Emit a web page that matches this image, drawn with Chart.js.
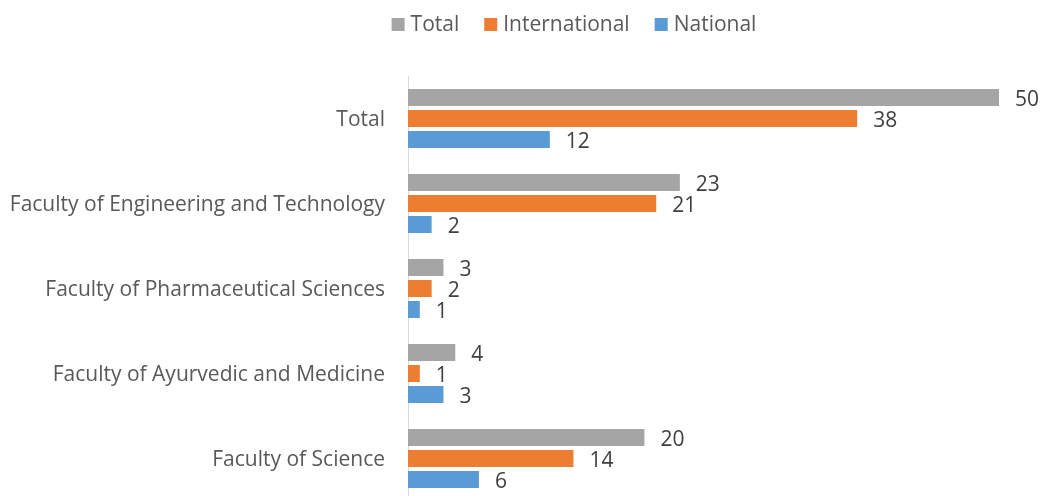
<!DOCTYPE html>
<html>
<head>
<meta charset="utf-8">
<script src="https://cdn.jsdelivr.net/npm/chart.js@4.4.0/dist/chart.umd.min.js"></script>
<style>
html,body{margin:0;padding:0;background:#fff;overflow:hidden}
#wrap{width:1043px;height:496px;overflow:hidden}
</style>
</head>
<body>
<div id="wrap"><canvas id="chart" width="1043" height="501"></canvas></div>
<script>
const categories=["Total","Faculty of Engineering and Technology","Faculty of Pharmaceutical Sciences","Faculty of Ayurvedic and Medicine","Faculty of Science"]
const totalValues=[50,23,3,4,20]
const internationalValues=[38,21,2,1,14]
const nationalValues=[12,2,1,3,6]
const seriesNames=["Total","International","National"]
const seriesColors=["#A5A5A5","#ED7D31","#5B9BD5"]

const font="'Open Sans', sans-serif"
const fontSize=21
const textColor="#595959"

// value labels at the end of each bar
const valueLabels={
id:"valueLabels",
afterDatasetsDraw(chart){
const ctx=chart.ctx
ctx.save()
ctx.font=fontSize+"px "+font
ctx.fillStyle="#404040"
ctx.textBaseline="middle"
ctx.textAlign="left"
chart.data.datasets.forEach((ds,i)=>{
chart.getDatasetMeta(i).data.forEach((bar,j)=>{
ctx.fillText(ds.data[j],bar.x+16,bar.y+3)
})
})
ctx.restore()
}
}

// legend drawn by hand so spacing matches
const topLegend={
id:"topLegend",
afterDraw(chart){
const ctx=chart.ctx
ctx.save()
ctx.font=fontSize+"px "+font
ctx.textBaseline="middle"
const box=13,gap=6,itemGap=25
const items=chart.data.datasets.map(ds=>({text:ds.label,color:ds.backgroundColor,w:box+gap+ctx.measureText(ds.label).width}))
let total=items.reduce((a,b)=>a+b.w,0)+itemGap*(items.length-1)
let x=574-total/2
const y=24
items.forEach(it=>{
ctx.fillStyle=it.color
ctx.fillRect(x,y-6,box,box)
ctx.fillStyle=textColor
ctx.fillText(it.text,x+box+gap,y+1)
x+=it.w+itemGap
})
ctx.restore()
}
}

new Chart(document.getElementById("chart"),{
type:"bar",
data:{
labels:categories,
datasets:[
{label:seriesNames[0],data:totalValues,backgroundColor:seriesColors[0]},
{label:seriesNames[1],data:internationalValues,backgroundColor:seriesColors[1]},
{label:seriesNames[2],data:nationalValues,backgroundColor:seriesColors[2]}
]
},
options:{
indexAxis:"y",
responsive:false,
animation:false,
categoryPercentage:0.741,
barPercentage:0.81,
layout:{padding:{top:76,right:44,left:0,bottom:0}},
plugins:{legend:{display:false},tooltip:{enabled:false}},
scales:{
x:{display:false,min:0,max:50},
y:{
grid:{display:false},
border:{display:true,color:"#D9D9D9",width:1},
ticks:{color:textColor,font:{family:font,size:fontSize},padding:15,labelOffset:2},
afterFit(scale){
scale.width=408
// tick padding otherwise eats into the plot height
scale.paddingTop=0
scale.paddingBottom=0
}
}
}
},
plugins:[valueLabels,topLegend]
})
</script>
</body>
</html>
